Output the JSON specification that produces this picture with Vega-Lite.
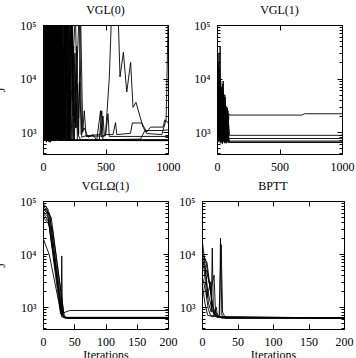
{
  "$schema": "https://vega.github.io/schema/vega-lite/v6.json",
  "padding": {"left": -6, "top": 3, "right": 0, "bottom": 0},
  "config": {
    "font": "Liberation Serif",
    "view": {"stroke": "black", "strokeWidth": 1},
    "axis": {"domain": false, "grid": false, "tickColor": "black", "tickWidth": 1, "labelFont": "Liberation Serif", "labelFontSize": 12, "labelColor": "black", "titleFont": "Liberation Serif", "titleFontSize": 12, "titleFontWeight": "normal", "titleColor": "black"},
    "title": {"font": "Liberation Serif", "fontSize": 12, "fontWeight": "normal", "color": "black", "anchor": "middle", "offset": 2},
    "line": {"color": "black", "strokeWidth": 0.9, "clip": true}
  },
  "datasets": {
    "vgl0": [
      {"r":"a1","it":0,"J":100000},{"r":"a1","it":8,"J":700},{"r":"a1","it":18,"J":200000},{"r":"a1","it":28,"J":650},{"r":"a1","it":40,"J":200000},{"r":"a1","it":52,"J":700},{"r":"a1","it":66,"J":200000},{"r":"a1","it":80,"J":680},{"r":"a1","it":95,"J":150000},{"r":"a1","it":110,"J":700},{"r":"a1","it":1000,"J":700},
      {"r":"a2","it":0,"J":60000},{"r":"a2","it":12,"J":200000},{"r":"a2","it":22,"J":700},{"r":"a2","it":35,"J":200000},{"r":"a2","it":48,"J":650},{"r":"a2","it":62,"J":200000},{"r":"a2","it":75,"J":700},{"r":"a2","it":88,"J":120000},{"r":"a2","it":102,"J":680},{"r":"a2","it":118,"J":200000},{"r":"a2","it":132,"J":700},{"r":"a2","it":1000,"J":705},
      {"r":"a3","it":0,"J":200000},{"r":"a3","it":6,"J":800},{"r":"a3","it":15,"J":200000},{"r":"a3","it":26,"J":700},{"r":"a3","it":38,"J":90000},{"r":"a3","it":50,"J":700},{"r":"a3","it":58,"J":200000},{"r":"a3","it":70,"J":750},{"r":"a3","it":85,"J":200000},{"r":"a3","it":100,"J":700},{"r":"a3","it":140,"J":200000},{"r":"a3","it":155,"J":700},{"r":"a3","it":170,"J":200000},{"r":"a3","it":185,"J":720},{"r":"a3","it":1000,"J":720},
      {"r":"a4","it":0,"J":40000},{"r":"a4","it":10,"J":900},{"r":"a4","it":24,"J":200000},{"r":"a4","it":34,"J":680},{"r":"a4","it":46,"J":200000},{"r":"a4","it":58,"J":650},{"r":"a4","it":72,"J":200000},{"r":"a4","it":84,"J":700},{"r":"a4","it":96,"J":200000},{"r":"a4","it":108,"J":800},{"r":"a4","it":125,"J":200000},{"r":"a4","it":140,"J":700},{"r":"a4","it":160,"J":40000},{"r":"a4","it":175,"J":700},{"r":"a4","it":200,"J":200000},{"r":"a4","it":215,"J":700},{"r":"a4","it":230,"J":200000},{"r":"a4","it":245,"J":700},{"r":"a4","it":1000,"J":690},
      {"r":"a5","it":0,"J":200000},{"r":"a5","it":5,"J":2000},{"r":"a5","it":14,"J":8000},{"r":"a5","it":20,"J":700},{"r":"a5","it":32,"J":200000},{"r":"a5","it":44,"J":900},{"r":"a5","it":56,"J":200000},{"r":"a5","it":68,"J":700},{"r":"a5","it":82,"J":200000},{"r":"a5","it":98,"J":750},{"r":"a5","it":115,"J":200000},{"r":"a5","it":130,"J":800},{"r":"a5","it":150,"J":200000},{"r":"a5","it":168,"J":750},{"r":"a5","it":190,"J":200000},{"r":"a5","it":205,"J":900},{"r":"a5","it":225,"J":200000},{"r":"a5","it":240,"J":2000},{"r":"a5","it":255,"J":30000},{"r":"a5","it":265,"J":1200},{"r":"a5","it":275,"J":8000},{"r":"a5","it":285,"J":900},{"r":"a5","it":300,"J":200000},{"r":"a5","it":318,"J":1000},{"r":"a5","it":330,"J":2500},{"r":"a5","it":345,"J":830},{"r":"a5","it":500,"J":850},{"r":"a5","it":520,"J":2200},{"r":"a5","it":530,"J":830},{"r":"a5","it":1000,"J":830},
      {"r":"a6","it":0,"J":80000},{"r":"a6","it":16,"J":700},{"r":"a6","it":30,"J":200000},{"r":"a6","it":42,"J":750},{"r":"a6","it":54,"J":200000},{"r":"a6","it":66,"J":720},{"r":"a6","it":78,"J":200000},{"r":"a6","it":92,"J":700},{"r":"a6","it":105,"J":200000},{"r":"a6","it":120,"J":750},{"r":"a6","it":135,"J":200000},{"r":"a6","it":150,"J":700},{"r":"a6","it":175,"J":200000},{"r":"a6","it":190,"J":700},{"r":"a6","it":210,"J":120000},{"r":"a6","it":225,"J":700},{"r":"a6","it":245,"J":40000},{"r":"a6","it":258,"J":1200},{"r":"a6","it":270,"J":3500},{"r":"a6","it":280,"J":900},{"r":"a6","it":300,"J":720},{"r":"a6","it":450,"J":700},{"r":"a6","it":470,"J":2500},{"r":"a6","it":480,"J":720},{"r":"a6","it":780,"J":740},{"r":"a6","it":815,"J":1070},{"r":"a6","it":950,"J":1070},{"r":"a6","it":1000,"J":1100},
      {"r":"a7","it":0,"J":200000},{"r":"a7","it":20,"J":700},{"r":"a7","it":40,"J":200000},{"r":"a7","it":60,"J":800},{"r":"a7","it":80,"J":200000},{"r":"a7","it":100,"J":700},{"r":"a7","it":130,"J":200000},{"r":"a7","it":150,"J":750},{"r":"a7","it":180,"J":200000},{"r":"a7","it":200,"J":900},{"r":"a7","it":230,"J":200000},{"r":"a7","it":250,"J":1500},{"r":"a7","it":270,"J":40000},{"r":"a7","it":285,"J":1800},{"r":"a7","it":295,"J":8600},{"r":"a7","it":305,"J":900},{"r":"a7","it":330,"J":1200},{"r":"a7","it":360,"J":800},{"r":"a7","it":400,"J":900},{"r":"a7","it":430,"J":700},{"r":"a7","it":460,"J":2500},{"r":"a7","it":470,"J":800},{"r":"a7","it":500,"J":900},{"r":"a7","it":530,"J":10000},{"r":"a7","it":550,"J":200000},{"r":"a7","it":600,"J":200000},{"r":"a7","it":616,"J":10700},{"r":"a7","it":643,"J":31000},{"r":"a7","it":670,"J":5600},{"r":"a7","it":701,"J":20000},{"r":"a7","it":720,"J":2900},{"r":"a7","it":744,"J":3600},{"r":"a7","it":800,"J":1240},{"r":"a7","it":830,"J":940},{"r":"a7","it":950,"J":900},{"r":"a7","it":985,"J":1700},{"r":"a7","it":1000,"J":100000},
      {"r":"a8","it":0,"J":200000},{"r":"a8","it":25,"J":700},{"r":"a8","it":50,"J":200000},{"r":"a8","it":70,"J":700},{"r":"a8","it":90,"J":200000},{"r":"a8","it":115,"J":700},{"r":"a8","it":140,"J":200000},{"r":"a8","it":165,"J":720},{"r":"a8","it":185,"J":200000},{"r":"a8","it":205,"J":700},{"r":"a8","it":235,"J":200000},{"r":"a8","it":250,"J":700},{"r":"a8","it":290,"J":200000},{"r":"a8","it":310,"J":800},{"r":"a8","it":340,"J":850},{"r":"a8","it":460,"J":900},{"r":"a8","it":480,"J":2000},{"r":"a8","it":490,"J":900},{"r":"a8","it":560,"J":900},{"r":"a8","it":580,"J":1500},{"r":"a8","it":590,"J":900},{"r":"a8","it":700,"J":950},{"r":"a8","it":715,"J":1480},{"r":"a8","it":790,"J":1480},{"r":"a8","it":830,"J":1000},{"r":"a8","it":860,"J":1240},{"r":"a8","it":960,"J":1240},{"r":"a8","it":975,"J":1700},{"r":"a8","it":1000,"J":1500},
      {"r":"a9","it":0,"J":150000},{"r":"a9","it":4,"J":700},{"r":"a9","it":10,"J":200000},{"r":"a9","it":16,"J":750},{"r":"a9","it":22,"J":200000},{"r":"a9","it":30,"J":700},{"r":"a9","it":37,"J":200000},{"r":"a9","it":44,"J":680},{"r":"a9","it":50,"J":200000},{"r":"a9","it":58,"J":700},{"r":"a9","it":64,"J":200000},{"r":"a9","it":72,"J":720},{"r":"a9","it":78,"J":200000},{"r":"a9","it":86,"J":700},{"r":"a9","it":92,"J":200000},{"r":"a9","it":100,"J":700},{"r":"a9","it":106,"J":200000},{"r":"a9","it":114,"J":720},{"r":"a9","it":122,"J":200000},{"r":"a9","it":130,"J":700},{"r":"a9","it":145,"J":200000},{"r":"a9","it":158,"J":720},{"r":"a9","it":180,"J":200000},{"r":"a9","it":195,"J":720},{"r":"a9","it":220,"J":200000},{"r":"a9","it":238,"J":700},{"r":"a9","it":1000,"J":700},
      {"r":"a10","it":0,"J":200000},{"r":"a10","it":3,"J":3000},{"r":"a10","it":9,"J":200000},{"r":"a10","it":14,"J":700},{"r":"a10","it":20,"J":200000},{"r":"a10","it":27,"J":650},{"r":"a10","it":33,"J":200000},{"r":"a10","it":39,"J":700},{"r":"a10","it":47,"J":200000},{"r":"a10","it":54,"J":720},{"r":"a10","it":61,"J":200000},{"r":"a10","it":68,"J":700},{"r":"a10","it":76,"J":200000},{"r":"a10","it":83,"J":680},{"r":"a10","it":90,"J":200000},{"r":"a10","it":97,"J":700},{"r":"a10","it":104,"J":200000},{"r":"a10","it":112,"J":700},{"r":"a10","it":120,"J":200000},{"r":"a10","it":128,"J":700},{"r":"a10","it":137,"J":200000},{"r":"a10","it":146,"J":700},{"r":"a10","it":162,"J":200000},{"r":"a10","it":178,"J":700},{"r":"a10","it":195,"J":200000},{"r":"a10","it":210,"J":700},{"r":"a10","it":260,"J":200000},{"r":"a10","it":275,"J":700},{"r":"a10","it":1000,"J":700},
      {"r":"a11","it":0,"J":100000},{"r":"a11","it":7,"J":700},{"r":"a11","it":13,"J":200000},{"r":"a11","it":19,"J":700},{"r":"a11","it":25,"J":200000},{"r":"a11","it":31,"J":680},{"r":"a11","it":43,"J":200000},{"r":"a11","it":49,"J":700},{"r":"a11","it":55,"J":200000},{"r":"a11","it":61,"J":650},{"r":"a11","it":69,"J":200000},{"r":"a11","it":77,"J":700},{"r":"a11","it":86,"J":200000},{"r":"a11","it":93,"J":700},{"r":"a11","it":99,"J":200000},{"r":"a11","it":107,"J":720},{"r":"a11","it":116,"J":200000},{"r":"a11","it":124,"J":700},{"r":"a11","it":133,"J":200000},{"r":"a11","it":143,"J":700},{"r":"a11","it":152,"J":200000},{"r":"a11","it":163,"J":720},{"r":"a11","it":200,"J":200000},{"r":"a11","it":218,"J":700},{"r":"a11","it":1000,"J":710}
    ],
    "vgl1": [
      {"r":"b1","it":0,"J":100000},{"r":"b1","it":5,"J":3000},{"r":"b1","it":10,"J":20000},{"r":"b1","it":18,"J":1500},{"r":"b1","it":25,"J":40000},{"r":"b1","it":32,"J":900},{"r":"b1","it":40,"J":6000},{"r":"b1","it":48,"J":700},{"r":"b1","it":56,"J":3000},{"r":"b1","it":64,"J":650},{"r":"b1","it":72,"J":2500},{"r":"b1","it":80,"J":700},{"r":"b1","it":90,"J":1800},{"r":"b1","it":100,"J":870},{"r":"b1","it":1000,"J":870},
      {"r":"b2","it":0,"J":60000},{"r":"b2","it":6,"J":700},{"r":"b2","it":14,"J":10000},{"r":"b2","it":22,"J":800},{"r":"b2","it":30,"J":9000},{"r":"b2","it":38,"J":650},{"r":"b2","it":46,"J":8000},{"r":"b2","it":55,"J":900},{"r":"b2","it":62,"J":5000},{"r":"b2","it":70,"J":700},{"r":"b2","it":78,"J":3000},{"r":"b2","it":86,"J":680},{"r":"b2","it":95,"J":2200},{"r":"b2","it":103,"J":2080},{"r":"b2","it":680,"J":2080},{"r":"b2","it":700,"J":2200},{"r":"b2","it":1000,"J":2200},
      {"r":"b3","it":0,"J":200000},{"r":"b3","it":8,"J":1000},{"r":"b3","it":16,"J":30000},{"r":"b3","it":24,"J":700},{"r":"b3","it":34,"J":4000},{"r":"b3","it":42,"J":600},{"r":"b3","it":50,"J":9000},{"r":"b3","it":58,"J":700},{"r":"b3","it":66,"J":4500},{"r":"b3","it":74,"J":620},{"r":"b3","it":84,"J":2800},{"r":"b3","it":92,"J":650},{"r":"b3","it":100,"J":760},{"r":"b3","it":1000,"J":760},
      {"r":"b4","it":0,"J":80000},{"r":"b4","it":4,"J":2000},{"r":"b4","it":12,"J":1200},{"r":"b4","it":20,"J":15000},{"r":"b4","it":28,"J":650},{"r":"b4","it":36,"J":7000},{"r":"b4","it":44,"J":640},{"r":"b4","it":52,"J":5000},{"r":"b4","it":60,"J":680},{"r":"b4","it":68,"J":3500},{"r":"b4","it":76,"J":640},{"r":"b4","it":88,"J":2500},{"r":"b4","it":96,"J":640},{"r":"b4","it":1000,"J":640},
      {"r":"b5","it":0,"J":30000},{"r":"b5","it":10,"J":800},{"r":"b5","it":18,"J":6000},{"r":"b5","it":26,"J":620},{"r":"b5","it":36,"J":3500},{"r":"b5","it":46,"J":680},{"r":"b5","it":54,"J":2000},{"r":"b5","it":62,"J":620},{"r":"b5","it":70,"J":1800},{"r":"b5","it":80,"J":680},{"r":"b5","it":1000,"J":680},
      {"r":"b6","it":0,"J":150000},{"r":"b6","it":3,"J":5000},{"r":"b6","it":9,"J":650},{"r":"b6","it":15,"J":3000},{"r":"b6","it":21,"J":700},{"r":"b6","it":29,"J":2000},{"r":"b6","it":37,"J":650},{"r":"b6","it":45,"J":1500},{"r":"b6","it":53,"J":650},{"r":"b6","it":1000,"J":650}
    ],
    "vglo1": [
      {"r":"c1","it":0,"J":90000},{"r":"c1","it":8,"J":70000},{"r":"c1","it":30,"J":700},{"r":"c1","it":36,"J":620},{"r":"c1","it":200,"J":620},
      {"r":"c2","it":0,"J":80000},{"r":"c2","it":10,"J":60000},{"r":"c2","it":32,"J":680},{"r":"c2","it":38,"J":615},{"r":"c2","it":200,"J":615},
      {"r":"c3","it":0,"J":70000},{"r":"c3","it":13,"J":50000},{"r":"c3","it":34,"J":650},{"r":"c3","it":40,"J":610},{"r":"c3","it":200,"J":610},
      {"r":"c4","it":0,"J":85000},{"r":"c4","it":6,"J":75000},{"r":"c4","it":28,"J":750},{"r":"c4","it":34,"J":630},{"r":"c4","it":200,"J":630},
      {"r":"c5","it":0,"J":60000},{"r":"c5","it":9,"J":40000},{"r":"c5","it":31,"J":700},{"r":"c5","it":38,"J":625},{"r":"c5","it":200,"J":625},
      {"r":"c6","it":0,"J":20000},{"r":"c6","it":10,"J":9700},{"r":"c6","it":30,"J":650},{"r":"c6","it":36,"J":620},{"r":"c6","it":200,"J":620},
      {"r":"c7","it":0,"J":50000},{"r":"c7","it":15,"J":30000},{"r":"c7","it":34,"J":650},{"r":"c7","it":42,"J":615},{"r":"c7","it":200,"J":615},
      {"r":"c8","it":0,"J":75000},{"r":"c8","it":11,"J":55000},{"r":"c8","it":29,"J":800},{"r":"c8","it":30,"J":9200},{"r":"c8","it":31,"J":700},{"r":"c8","it":36,"J":640},{"r":"c8","it":200,"J":640},
      {"r":"c9","it":0,"J":65000},{"r":"c9","it":8,"J":50000},{"r":"c9","it":29,"J":900},{"r":"c9","it":33,"J":780},{"r":"c9","it":43,"J":860},{"r":"c9","it":200,"J":860}
    ],
    "bptt": [
      {"r":"d1","it":0,"J":20000},{"r":"d1","it":3,"J":9000},{"r":"d1","it":8,"J":2000},{"r":"d1","it":14,"J":900},{"r":"d1","it":20,"J":650},{"r":"d1","it":30,"J":620},{"r":"d1","it":200,"J":620},
      {"r":"d2","it":0,"J":10000},{"r":"d2","it":5,"J":8000},{"r":"d2","it":10,"J":3000},{"r":"d2","it":15,"J":1000},{"r":"d2","it":22,"J":700},{"r":"d2","it":28,"J":620},{"r":"d2","it":200,"J":620},
      {"r":"d3","it":0,"J":8000},{"r":"d3","it":4,"J":6000},{"r":"d3","it":9,"J":1200},{"r":"d3","it":13,"J":800},{"r":"d3","it":14.5,"J":13000},{"r":"d3","it":16,"J":800},{"r":"d3","it":22,"J":650},{"r":"d3","it":200,"J":620},
      {"r":"d4","it":0,"J":6000},{"r":"d4","it":6,"J":5000},{"r":"d4","it":11,"J":2500},{"r":"d4","it":16,"J":900},{"r":"d4","it":20,"J":700},{"r":"d4","it":25,"J":650},{"r":"d4","it":26,"J":20000},{"r":"d4","it":28,"J":700},{"r":"d4","it":32,"J":620},{"r":"d4","it":200,"J":620},
      {"r":"d5","it":0,"J":12000},{"r":"d5","it":3,"J":5000},{"r":"d5","it":7,"J":1500},{"r":"d5","it":12,"J":3000},{"r":"d5","it":14,"J":900},{"r":"d5","it":18,"J":660},{"r":"d5","it":200,"J":620},
      {"r":"d6","it":0,"J":4000},{"r":"d6","it":5,"J":2000},{"r":"d6","it":9,"J":900},{"r":"d6","it":12,"J":700},{"r":"d6","it":24,"J":650},{"r":"d6","it":27,"J":15000},{"r":"d6","it":29,"J":800},{"r":"d6","it":33,"J":620},{"r":"d6","it":200,"J":620},
      {"r":"d7","it":0,"J":9000},{"r":"d7","it":7,"J":7000},{"r":"d7","it":12,"J":2000},{"r":"d7","it":17,"J":4000},{"r":"d7","it":19,"J":800},{"r":"d7","it":23,"J":640},{"r":"d7","it":200,"J":620},
      {"r":"d8","it":0,"J":3000},{"r":"d8","it":4,"J":1200},{"r":"d8","it":8,"J":700},{"r":"d8","it":16,"J":650},{"r":"d8","it":20,"J":1000},{"r":"d8","it":22,"J":640},{"r":"d8","it":200,"J":620}
    ]
  },
  "vconcat": [
    {
      "hconcat": [
        {
          "title": "VGL(0)", "width": 125, "height": 129, "data": {"name": "vgl0"},
          "resolve": {"axis": {"x": "independent", "y": "independent"}},
          "layer": [
            {"mark": {"type": "line", "clip": true},
             "encoding": {"detail": {"field": "r"},
               "x": {"field": "it", "type": "quantitative", "scale": {"domain": [0, 1000], "nice": false, "zero": false}, "axis": {"orient": "bottom", "values": [0, 500, 1000], "format": "d", "tickSize": -5, "labelPadding": 12, "labelFlush": false, "title": null}},
               "y": {"field": "J", "type": "quantitative", "scale": {"type": "log", "domain": [390, 100000], "nice": false}, "axis": {"orient": "left", "values": [1000, 10000, 100000], "tickSize": -5, "labelPadding": 12, "labelExpr": "datum.value == 1000 ? '10³' : datum.value == 10000 ? '10⁴' : '10⁵'", "title": "J", "titlePadding": 12}}}},
            {"mark": {"type": "line", "opacity": 0, "clip": true},
             "encoding": {"detail": {"field": "r"},
               "x": {"field": "it", "type": "quantitative", "scale": {"domain": [0, 1000], "nice": false, "zero": false}, "axis": {"orient": "top", "values": [0, 500, 1000], "tickSize": -5, "labels": false, "title": null}},
               "y": {"field": "J", "type": "quantitative", "scale": {"type": "log", "domain": [390, 100000], "nice": false}, "axis": {"orient": "right", "values": [1000, 10000, 100000], "tickSize": -5, "labels": false, "title": null}}}},
            {"mark": {"type": "line", "opacity": 0, "clip": true},
             "encoding": {"detail": {"field": "r"},
               "x": {"field": "it", "type": "quantitative", "scale": {"domain": [0, 1000], "nice": false, "zero": false}, "axis": null},
               "y": {"field": "J", "type": "quantitative", "scale": {"type": "log", "domain": [390, 100000], "nice": false}, "axis": {"orient": "left", "values": [400, 500, 600, 700, 800, 900, 2000, 3000, 4000, 5000, 6000, 7000, 8000, 9000, 20000, 30000, 40000, 50000, 60000, 70000, 80000, 90000], "tickSize": -3, "labels": false, "title": null}}}},
            {"mark": {"type": "line", "opacity": 0, "clip": true},
             "encoding": {"detail": {"field": "r"},
               "x": {"field": "it", "type": "quantitative", "scale": {"domain": [0, 1000], "nice": false, "zero": false}, "axis": null},
               "y": {"field": "J", "type": "quantitative", "scale": {"type": "log", "domain": [390, 100000], "nice": false}, "axis": {"orient": "right", "values": [400, 500, 600, 700, 800, 900, 2000, 3000, 4000, 5000, 6000, 7000, 8000, 9000, 20000, 30000, 40000, 50000, 60000, 70000, 80000, 90000], "tickSize": -3, "labels": false, "title": null}}}}
          ]
        },
        {
          "title": "VGL(1)", "width": 125, "height": 129, "data": {"name": "vgl1"},
          "resolve": {"axis": {"x": "independent", "y": "independent"}},
          "layer": [
            {"mark": {"type": "line", "clip": true},
             "encoding": {"detail": {"field": "r"},
               "x": {"field": "it", "type": "quantitative", "scale": {"domain": [0, 1000], "nice": false, "zero": false}, "axis": {"orient": "bottom", "values": [0, 500, 1000], "format": "d", "tickSize": -5, "labelPadding": 12, "labelFlush": false, "title": null}},
               "y": {"field": "J", "type": "quantitative", "scale": {"type": "log", "domain": [390, 100000], "nice": false}, "axis": {"orient": "left", "values": [1000, 10000, 100000], "tickSize": -5, "labelPadding": 12, "labelExpr": "datum.value == 1000 ? '10³' : datum.value == 10000 ? '10⁴' : '10⁵'", "title": null}}}},
            {"mark": {"type": "line", "opacity": 0, "clip": true},
             "encoding": {"detail": {"field": "r"},
               "x": {"field": "it", "type": "quantitative", "scale": {"domain": [0, 1000], "nice": false, "zero": false}, "axis": {"orient": "top", "values": [0, 500, 1000], "tickSize": -5, "labels": false, "title": null}},
               "y": {"field": "J", "type": "quantitative", "scale": {"type": "log", "domain": [390, 100000], "nice": false}, "axis": {"orient": "right", "values": [1000, 10000, 100000], "tickSize": -5, "labels": false, "title": null}}}},
            {"mark": {"type": "line", "opacity": 0, "clip": true},
             "encoding": {"detail": {"field": "r"},
               "x": {"field": "it", "type": "quantitative", "scale": {"domain": [0, 1000], "nice": false, "zero": false}, "axis": null},
               "y": {"field": "J", "type": "quantitative", "scale": {"type": "log", "domain": [390, 100000], "nice": false}, "axis": {"orient": "left", "values": [400, 500, 600, 700, 800, 900, 2000, 3000, 4000, 5000, 6000, 7000, 8000, 9000, 20000, 30000, 40000, 50000, 60000, 70000, 80000, 90000], "tickSize": -3, "labels": false, "title": null}}}},
            {"mark": {"type": "line", "opacity": 0, "clip": true},
             "encoding": {"detail": {"field": "r"},
               "x": {"field": "it", "type": "quantitative", "scale": {"domain": [0, 1000], "nice": false, "zero": false}, "axis": null},
               "y": {"field": "J", "type": "quantitative", "scale": {"type": "log", "domain": [390, 100000], "nice": false}, "axis": {"orient": "right", "values": [400, 500, 600, 700, 800, 900, 2000, 3000, 4000, 5000, 6000, 7000, 8000, 9000, 20000, 30000, 40000, 50000, 60000, 70000, 80000, 90000], "tickSize": -3, "labels": false, "title": null}}}}
          ]
        }
      ],
      "spacing": 49, "bounds": "flush"
    },
    {
      "hconcat": [
        {
          "title": "VGLΩ(1)", "width": 125, "height": 128, "data": {"name": "vglo1"},
          "resolve": {"axis": {"x": "independent", "y": "independent"}},
          "layer": [
            {"mark": {"type": "line", "clip": true},
             "encoding": {"detail": {"field": "r"},
               "x": {"field": "it", "type": "quantitative", "scale": {"domain": [0, 200], "nice": false, "zero": false}, "axis": {"orient": "bottom", "values": [0, 50, 100, 150, 200], "format": "d", "tickSize": -5, "labelPadding": 12, "labelFlush": false, "title": "Iterations", "titlePadding": 2}},
               "y": {"field": "J", "type": "quantitative", "scale": {"type": "log", "domain": [385, 100000], "nice": false}, "axis": {"orient": "left", "values": [1000, 10000, 100000], "tickSize": -5, "labelPadding": 12, "labelExpr": "datum.value == 1000 ? '10³' : datum.value == 10000 ? '10⁴' : '10⁵'", "title": "J", "titlePadding": 12}}}},
            {"mark": {"type": "line", "opacity": 0, "clip": true},
             "encoding": {"detail": {"field": "r"},
               "x": {"field": "it", "type": "quantitative", "scale": {"domain": [0, 200], "nice": false, "zero": false}, "axis": {"orient": "top", "values": [0, 50, 100, 150, 200], "tickSize": -5, "labels": false, "title": null}},
               "y": {"field": "J", "type": "quantitative", "scale": {"type": "log", "domain": [385, 100000], "nice": false}, "axis": {"orient": "right", "values": [1000, 10000, 100000], "tickSize": -5, "labels": false, "title": null}}}},
            {"mark": {"type": "line", "opacity": 0, "clip": true},
             "encoding": {"detail": {"field": "r"},
               "x": {"field": "it", "type": "quantitative", "scale": {"domain": [0, 200], "nice": false, "zero": false}, "axis": null},
               "y": {"field": "J", "type": "quantitative", "scale": {"type": "log", "domain": [385, 100000], "nice": false}, "axis": {"orient": "left", "values": [400, 500, 600, 700, 800, 900, 2000, 3000, 4000, 5000, 6000, 7000, 8000, 9000, 20000, 30000, 40000, 50000, 60000, 70000, 80000, 90000], "tickSize": -3, "labels": false, "title": null}}}},
            {"mark": {"type": "line", "opacity": 0, "clip": true},
             "encoding": {"detail": {"field": "r"},
               "x": {"field": "it", "type": "quantitative", "scale": {"domain": [0, 200], "nice": false, "zero": false}, "axis": null},
               "y": {"field": "J", "type": "quantitative", "scale": {"type": "log", "domain": [385, 100000], "nice": false}, "axis": {"orient": "right", "values": [400, 500, 600, 700, 800, 900, 2000, 3000, 4000, 5000, 6000, 7000, 8000, 9000, 20000, 30000, 40000, 50000, 60000, 70000, 80000, 90000], "tickSize": -3, "labels": false, "title": null}}}}
          ]
        },
        {
          "title": "BPTT", "width": 142, "height": 128, "data": {"name": "bptt"},
          "resolve": {"axis": {"x": "independent", "y": "independent"}},
          "layer": [
            {"mark": {"type": "line", "clip": true},
             "encoding": {"detail": {"field": "r"},
               "x": {"field": "it", "type": "quantitative", "scale": {"domain": [0, 200], "nice": false, "zero": false}, "axis": {"orient": "bottom", "values": [0, 50, 100, 150, 200], "format": "d", "tickSize": -5, "labelPadding": 12, "labelFlush": false, "title": "Iterations", "titlePadding": 2}},
               "y": {"field": "J", "type": "quantitative", "scale": {"type": "log", "domain": [385, 100000], "nice": false}, "axis": {"orient": "left", "values": [1000, 10000, 100000], "tickSize": -5, "labelPadding": 12, "labelExpr": "datum.value == 1000 ? '10³' : datum.value == 10000 ? '10⁴' : '10⁵'", "title": null}}}},
            {"mark": {"type": "line", "opacity": 0, "clip": true},
             "encoding": {"detail": {"field": "r"},
               "x": {"field": "it", "type": "quantitative", "scale": {"domain": [0, 200], "nice": false, "zero": false}, "axis": {"orient": "top", "values": [0, 50, 100, 150, 200], "tickSize": -5, "labels": false, "title": null}},
               "y": {"field": "J", "type": "quantitative", "scale": {"type": "log", "domain": [385, 100000], "nice": false}, "axis": {"orient": "right", "values": [1000, 10000, 100000], "tickSize": -5, "labels": false, "title": null}}}},
            {"mark": {"type": "line", "opacity": 0, "clip": true},
             "encoding": {"detail": {"field": "r"},
               "x": {"field": "it", "type": "quantitative", "scale": {"domain": [0, 200], "nice": false, "zero": false}, "axis": null},
               "y": {"field": "J", "type": "quantitative", "scale": {"type": "log", "domain": [385, 100000], "nice": false}, "axis": {"orient": "left", "values": [400, 500, 600, 700, 800, 900, 2000, 3000, 4000, 5000, 6000, 7000, 8000, 9000, 20000, 30000, 40000, 50000, 60000, 70000, 80000, 90000], "tickSize": -3, "labels": false, "title": null}}}},
            {"mark": {"type": "line", "opacity": 0, "clip": true},
             "encoding": {"detail": {"field": "r"},
               "x": {"field": "it", "type": "quantitative", "scale": {"domain": [0, 200], "nice": false, "zero": false}, "axis": null},
               "y": {"field": "J", "type": "quantitative", "scale": {"type": "log", "domain": [385, 100000], "nice": false}, "axis": {"orient": "right", "values": [400, 500, 600, 700, 800, 900, 2000, 3000, 4000, 5000, 6000, 7000, 8000, 9000, 20000, 30000, 40000, 50000, 60000, 70000, 80000, 90000], "tickSize": -3, "labels": false, "title": null}}}}
          ]
        }
      ],
      "spacing": 34, "bounds": "flush"
    }
  ],
  "spacing": 6, "bounds": "full"
}
